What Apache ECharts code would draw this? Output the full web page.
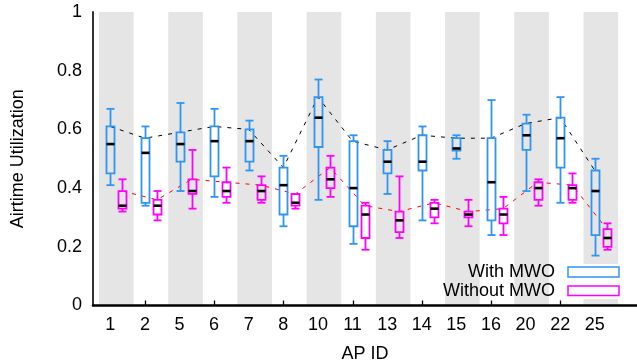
<!DOCTYPE html>
<html>
<head>
<meta charset="utf-8">
<script src="https://cdn.jsdelivr.net/npm/echarts@6/dist/echarts.min.js"></script>
<style>html,body{margin:0;padding:0;background:#fff;}#c{width:637px;height:364px;}</style>
</head>
<body>
<div id="c"></div>
<script>
// AP IDs (x categories)
const categories = ['1','2','5','6','7','8','10','11','13','14','15','16','20','22','25'];
// Box stats: [min, q1, median, q3, max]
const withMWO = [
  [0.41, 0.45, 0.55, 0.61, 0.67],[0.34, 0.35, 0.52, 0.57, 0.61],[0.39, 0.49, 0.55, 0.59, 0.69],
  [0.37, 0.44, 0.56, 0.61, 0.67],[0.46, 0.49, 0.56, 0.60, 0.63],[0.27, 0.31, 0.41, 0.47, 0.51],
  [0.36, 0.54, 0.64, 0.71, 0.77],[0.21, 0.27, 0.40, 0.56, 0.58],[0.38, 0.45, 0.49, 0.53, 0.56],
  [0.29, 0.46, 0.49, 0.58, 0.61],[0.50, 0.528, 0.535, 0.57, 0.58],[0.24, 0.29, 0.42, 0.57, 0.70],
  [0.39, 0.53, 0.58, 0.62, 0.65],[0.35, 0.47, 0.57, 0.64, 0.71],[0.17, 0.24, 0.39, 0.46, 0.50]
];
const withoutMWO = [
  [0.32, 0.33, 0.34, 0.39, 0.43],[0.29, 0.31, 0.34, 0.36, 0.39],[0.33, 0.38, 0.39, 0.43, 0.53],
  [0.35, 0.37, 0.39, 0.42, 0.47],[0.35, 0.36, 0.39, 0.41, 0.44],[0.33, 0.34, 0.35, 0.38, 0.38],
  [0.37, 0.40, 0.43, 0.47, 0.51],[0.19, 0.23, 0.31, 0.34, 0.35],[0.23, 0.25, 0.29, 0.32, 0.44],
  [0.28, 0.30, 0.33, 0.35, 0.36],[0.27, 0.30, 0.31, 0.32, 0.36],[0.24, 0.28, 0.31, 0.33, 0.37],
  [0.34, 0.36, 0.40, 0.42, 0.43],[0.35, 0.36, 0.40, 0.41, 0.45],[0.19, 0.20, 0.23, 0.26, 0.28]
];
const yTicks = ['0','0.2','0.4','0.6','0.8','1'];
const tickIdx = [1,3,5,7,9,11,13];

const BLUE = '#2f95f5', MAG = '#ff00ff';
const OFF = 0.35; // magenta box offset (in category units)
const FONT = 'Liberation Sans, Arial, Helvetica, sans-serif';

function boxData(arr, off){ return arr.map((d,i)=>[i+off].concat(d)); }

function renderBox(color){
  return function(params, api){
    const x = api.value(0);
    const p = v => api.coord([x, v]);
    const lo=p(api.value(1)), q1=p(api.value(2)), md=p(api.value(3)), q3=p(api.value(4)), hi=p(api.value(5));
    const cx = Math.round(lo[0]) + 0.5, hw = 4;
    const ls = {stroke: color, lineWidth: 1.8};
    return {type:'group', children:[
      {type:'line', shape:{x1:cx,y1:hi[1],x2:cx,y2:q3[1]}, style:ls},
      {type:'line', shape:{x1:cx,y1:q1[1],x2:cx,y2:lo[1]}, style:ls},
      {type:'line', shape:{x1:cx-hw,y1:hi[1],x2:cx+hw,y2:hi[1]}, style:ls},
      {type:'line', shape:{x1:cx-hw,y1:lo[1],x2:cx+hw,y2:lo[1]}, style:ls},
      {type:'rect', shape:{x:cx-hw,y:q3[1],width:2*hw,height:q1[1]-q3[1]}, style:{fill:'transparent', stroke:color, lineWidth:1.8}},
      {type:'line', shape:{x1:cx-hw,y1:md[1],x2:cx+hw,y2:md[1]}, style:{stroke:'#000', lineWidth:2.6}}
    ]};
  };
}
// inner x ticks at every other AP, placed through the axis scale
function renderTicks(params, api){
  const children = [];
  tickIdx.forEach(t=>{
    const p = api.coord([t, 0]);
    const x = Math.round(p[0]) + 0.5;
    children.push({type:'line', shape:{x1:x, y1:p[1], x2:x, y2:p[1]-5}, style:{stroke:'#000', lineWidth:1.3}});
  });
  return {type:'group', children};
}

const bands = [];
for (let i=0;i<categories.length;i+=2){
  bands.push([{xAxis: Math.max(-0.5, i-0.326)}, {xAxis: i+0.674}]);
}

const chart = echarts.init(document.getElementById('c'));
chart.setOption({
  animation:false,
  textStyle:{fontFamily:FONT},
  grid:{left:93, right:0, top:12, bottom:58.5, containLabel:false, outerBoundsMode:'none'},
  xAxis:{
    type:'value', min:-0.5, max:15.22, z:10, position:'bottom',
    name:'AP ID', nameLocation:'middle', nameGap:40,
    nameTextStyle:{fontSize:18, color:'#000', fontFamily:FONT},
    axisLine:{show:true, onZero:false, lineStyle:{color:'#000', width:2.5}},
    axisTick:{show:false},
    axisLabel:{customValues:categories.map((c,i)=>i), formatter:v=>categories[Math.round(v)], fontSize:18, color:'#000', margin:11, fontFamily:FONT},
    splitLine:{show:false}
  },
  yAxis:{
    type:'value', min:0, max:1, interval:0.2, z:10,
    name:'Airtime Utilization', nameLocation:'middle', nameGap:66,
    nameTextStyle:{fontSize:18, color:'#000', fontFamily:FONT},
    axisLine:{show:true, onZero:false, lineStyle:{color:'#333', width:2}},
    axisTick:{show:false},
    axisLabel:{formatter:v=>yTicks[Math.round(v*5)], fontSize:18, color:'#000', margin:11, fontFamily:FONT},
    splitLine:{show:false}
  },
  series:[
    {type:'line', name:'bands', data:[], silent:true, z:0, markArea:{silent:true, itemStyle:{color:'#e5e5e5'}, data:bands}},
    {type:'line', name:'q3With', data:withMWO.map((d,i)=>[i, d[3]]), symbol:'none', z:1, lineStyle:{color:'#000', width:1, type:[4,6]}, silent:true},
    {type:'line', name:'q3Without', data:withoutMWO.map((d,i)=>[i+OFF, d[3]]), symbol:'none', z:1, lineStyle:{color:'#ff0000', width:1, type:[4,6]}, silent:true},
    {type:'custom', name:'With MWO', data:boxData(withMWO,0), renderItem:renderBox(BLUE), encode:{x:0,y:[1,2,3,4,5]}, z:3},
    {type:'custom', name:'Without MWO', data:boxData(withoutMWO,OFF), renderItem:renderBox(MAG), encode:{x:0,y:[1,2,3,4,5]}, z:3},
    {type:'custom', name:'ticks', data:[[0,0.5]], renderItem:renderTicks, clip:false, silent:true, z:20}
  ],
  graphic:[
    {type:'rect', shape:{x:564,y:264,width:59,height:35}, style:{fill:'#fff'}, z:10},
    {type:'text', x:555, y:272, style:{text:'With MWO', align:'right', verticalAlign:'middle', fontSize:18, fill:'#000', fontFamily:FONT}, z:11},
    {type:'rect', shape:{x:568,y:267,width:51,height:10}, style:{fill:'#fff', stroke:BLUE, lineWidth:1.5}, z:11},
    {type:'text', x:555, y:291, style:{text:'Without MWO', align:'right', verticalAlign:'middle', fontSize:18, fill:'#000', fontFamily:FONT}, z:11},
    {type:'rect', shape:{x:568,y:286,width:51,height:9.5}, style:{fill:'#fff', stroke:MAG, lineWidth:1.5}, z:11}
  ]
});
</script>
</body>
</html>
